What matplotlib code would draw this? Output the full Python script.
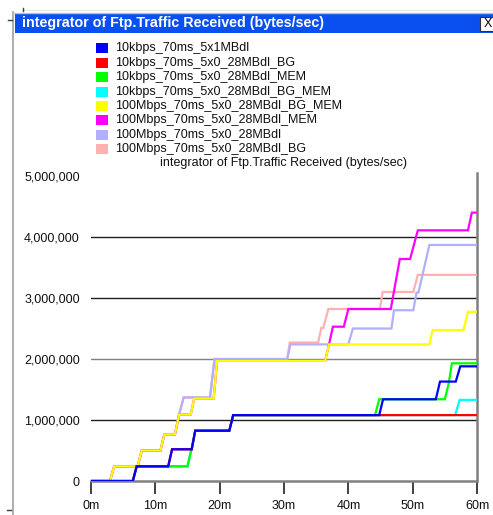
import matplotlib
matplotlib.use("Agg")
import matplotlib.pyplot as plt
import matplotlib.patches as patches
from matplotlib.lines import Line2D
from matplotlib.ticker import FuncFormatter

# series names and colours, in legend order
names = ["10kbps_70ms_5x1MBdl", "10kbps_70ms_5x0_28MBdl_BG", "10kbps_70ms_5x0_28MBdl_MEM",
         "10kbps_70ms_5x0_28MBdl_BG_MEM", "100Mbps_70ms_5x0_28MBdl_BG_MEM",
         "100Mbps_70ms_5x0_28MBdl_MEM", "100Mbps_70ms_5x0_28MBdl", "100Mbps_70ms_5x0_28MBdl_BG"]
colors = ["#0000ff", "#ff0000", "#00ff00", "#00ffff", "#ffff00", "#ff00ff", "#b0b0ff", "#ffb0b0"]

# time in minutes, value in millions of bytes
blue_t = [0, 6.5, 7.1, 12.0, 12.6, 15.65, 16.2, 21.5, 22.1, 44.8, 45.4, 53.6, 54.25, 56.7, 57.4, 60]
blue_v = [0, 0, 0.24, 0.24, 0.52, 0.52, 0.825, 0.825, 1.08, 1.08, 1.34, 1.34, 1.63, 1.63, 1.88, 1.88]
red_t = [0, 6.5, 7.1, 12.0, 12.6, 15.65, 16.2, 21.5, 22.1, 60]
red_v = [0, 0, 0.24, 0.24, 0.52, 0.52, 0.825, 0.825, 1.08, 1.08]
green_t = [0, 6.5, 7.1, 15.0, 15.6, 15.65, 16.2, 21.5, 22.1, 44.15, 44.8, 55.0, 55.6, 56.1, 60]
green_v = [0, 0, 0.24, 0.24, 0.52, 0.52, 0.825, 0.825, 1.08, 1.08, 1.34, 1.34, 1.6, 1.93, 1.93]
cyan_t = [0, 6.5, 7.1, 15.0, 15.6, 15.65, 16.2, 21.5, 22.1, 56.6, 57.3, 60]
cyan_v = [0, 0, 0.24, 0.24, 0.52, 0.52, 0.825, 0.825, 1.08, 1.08, 1.33, 1.33]
yellow_t = [0, 2.95, 3.6, 7.25, 7.9, 10.8, 11.4, 13.05, 13.7, 15.5, 16.05, 19.07, 19.6,
            36.4, 37.0, 52.6, 53.1, 57.9, 58.6, 60]
yellow_v = [0, 0, 0.24, 0.24, 0.5, 0.5, 0.765, 0.765, 1.09, 1.09, 1.355, 1.355, 1.97,
            1.97, 2.24, 2.24, 2.475, 2.475, 2.775, 2.775]
magenta_t = [0, 2.95, 3.6, 7.25, 7.9, 10.8, 11.4, 13.05, 13.7, 15.5, 16.05, 19.07, 19.6,
             36.4, 37.0, 37.6, 39.3, 40.0, 46.6, 48.0, 49.6, 50.8, 58.6, 59.2, 59.8]
magenta_v = [0, 0, 0.24, 0.24, 0.5, 0.5, 0.765, 0.765, 1.09, 1.09, 1.355, 1.355, 1.97,
             1.97, 2.24, 2.53, 2.53, 2.82, 2.82, 3.64, 3.64, 4.11, 4.11, 4.4, 4.4]
purple_t = [0, 2.95, 3.6, 7.25, 7.9, 10.8, 11.4, 13.05, 13.7, 14.4, 18.5, 19.2, 30.5, 31.0,
            40.0, 40.7, 46.7, 47.1, 50.1, 50.6, 50.9, 52.6, 60]
purple_v = [0, 0, 0.24, 0.24, 0.5, 0.5, 0.765, 0.765, 1.09, 1.37, 1.37, 2.0, 2.0, 2.24,
            2.24, 2.5, 2.5, 2.8, 2.8, 3.09, 3.09, 3.87, 3.87]
pink_t = [0, 2.95, 3.6, 7.25, 7.9, 10.8, 11.4, 13.05, 13.7, 14.4, 18.5, 19.2, 30.5, 30.9,
          35.3, 35.8, 36.1, 36.9, 44.9, 45.35, 50.1, 50.8, 60]
pink_v = [0, 0, 0.24, 0.24, 0.5, 0.5, 0.765, 0.765, 1.09, 1.37, 1.37, 2.0, 2.0, 2.27,
          2.27, 2.51, 2.51, 2.82, 2.82, 3.1, 3.1, 3.38, 3.38]

series_t = [blue_t, red_t, green_t, cyan_t, yellow_t, magenta_t, purple_t, pink_t]
series_v = [blue_v, red_v, green_v, cyan_v, yellow_v, magenta_v, purple_v, pink_v]

y_ticks = [0, 1000000, 2000000, 3000000, 4000000, 5000000]
x_ticks = [0, 10, 20, 30, 40, 50, 60]
chart_title = "integrator of Ftp.Traffic Received (bytes/sec)"

W, H = 493, 515
plt.rcParams['font.family'] = ['Liberation Sans', 'DejaVu Sans']
fig = plt.figure(figsize=(W / 100, H / 100), dpi=100)
fig.patch.set_facecolor("white")

def fx(px):
    return px / W

def fy(py):
    return 1 - py / H

# window chrome
fig.add_artist(Line2D([fx(12.5), fx(12.5)], [fy(12), fy(515)], color="#a0a0a0", lw=1.2))
fig.add_artist(Line2D([fx(12.5), fx(493)], [fy(12.5), fy(12.5)], color="#c0c0c0", lw=1.0))
fig.add_artist(Line2D([fx(22), fx(493)], [fy(10), fy(10)], color="#e0e0e0", lw=0.6))
fig.add_artist(Line2D([fx(23), fx(23)], [fy(8), fy(11)], color="#404040", lw=1.0))
fig.add_artist(Line2D([fx(8), fx(12)], [fy(20), fy(20)], color="#404040", lw=1.0))
fig.add_artist(Line2D([fx(7), fx(11)], [fy(510), fy(510)], color="#404040", lw=1.0))
fig.add_artist(patches.Rectangle((fx(15), fy(33)), fx(478), 19 / H, transform=fig.transFigure,
                                 facecolor="#0a50f0", edgecolor="none"))
fig.add_artist(patches.Rectangle((fx(480), fy(31)), fx(16), 14 / H, transform=fig.transFigure,
                                 facecolor="white", edgecolor="#303030", lw=0.8))
fig.text(fx(487.5), fy(24), "X", fontsize=9, color="black", ha="center", va="center")
fig.text(fx(22), fy(23.5), chart_title, fontsize=10.3, weight="bold", color="white", va="center")

# legend
for i, (name, c) in enumerate(zip(names, colors)):
    yc = 48.3 + i * 14.4
    fig.add_artist(patches.Rectangle((fx(96), fy(yc + 5)), 12 / W, 10 / H, transform=fig.transFigure,
                                     facecolor=c, edgecolor="none"))
    fig.text(fx(115), fy(yc), name, fontsize=9, color="#101010", va="center")

# plot area
ax = fig.add_axes([fx(91), fy(481), 386 / W, (481 - 173) / H])
ax.set_xlim(0, 60)
ax.set_ylim(0, 5.05e6)
for spine in ["left", "top"]:
    ax.spines[spine].set_visible(False)
ax.spines["bottom"].set_color("#808080")
ax.spines["bottom"].set_linewidth(1.8)
ax.spines["right"].set_color("#808080")
ax.spines["right"].set_linewidth(1.8)

for yt in y_ticks[1:-1]:
    ax.axhline(yt, color="#808080" if yt == 2000000 else "#202020", lw=1.0, zorder=1)

for i in range(len(names) - 1, -1, -1):
    ax.plot(series_t[i], [v * 1e6 for v in series_v[i]], color=colors[i], lw=1.6,
            solid_joinstyle="miter", zorder=2 + (len(names) - i))

ax.set_yticks(y_ticks)
ax.yaxis.set_major_formatter(FuncFormatter(lambda v, p: f"{int(v):,}"))
ax.set_xticks(x_ticks)
ax.set_xticklabels([f"{t}m" for t in x_ticks])
ax.tick_params(axis="y", length=0, pad=8, labelsize=9, labelcolor="#101010")
ax.tick_params(axis="x", length=9, width=1.2, color="#202020", pad=5, labelsize=9,
               labelcolor="#101010")
ax.set_title(chart_title, fontsize=9, color="#101010", pad=5)

fig.savefig("out.png", dpi=100, facecolor="white")
